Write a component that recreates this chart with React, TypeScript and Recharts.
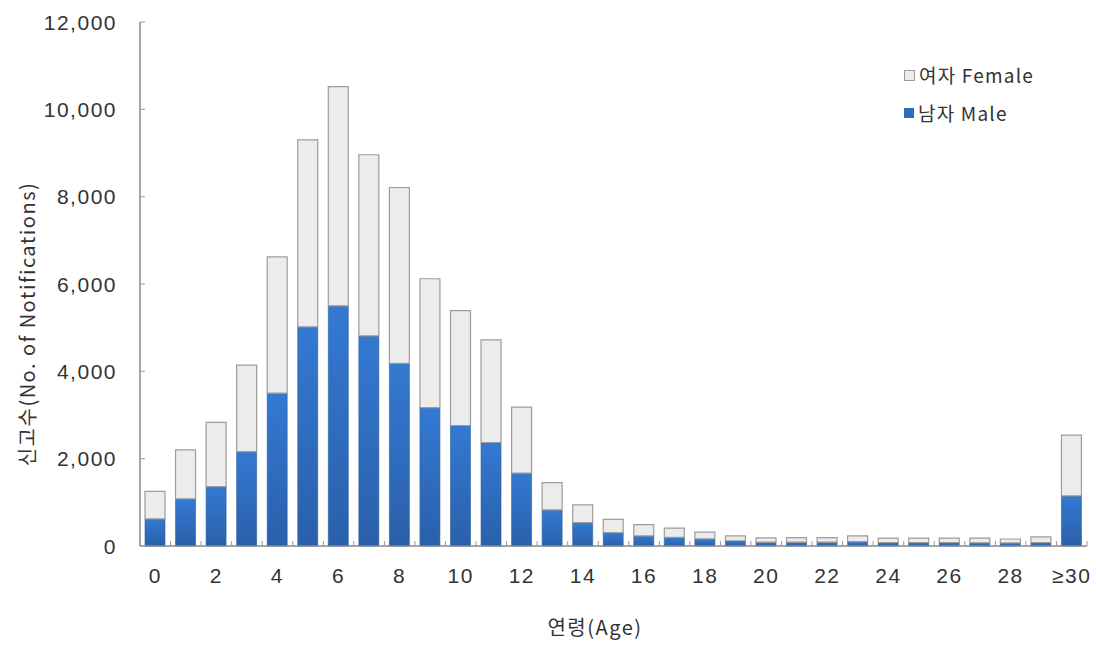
import React from 'react';
import { BarChart, Bar, XAxis, YAxis } from 'recharts';

const ageLabels = ['0','1','2','3','4','5','6','7','8','9','10','11','12','13','14','15','16','17','18','19','20','21','22','23','24','25','26','27','28','29','≥30'];
const maleValues = [620,1080,1360,2160,3500,5020,5500,4810,4180,3170,2760,2370,1670,825,535,305,230,200,165,120,90,90,90,100,80,80,80,75,70,80,1150];
const femaleValues = [630,1120,1470,1980,3120,4280,5020,4150,4030,2950,2630,2350,1510,625,405,305,260,210,155,110,95,100,100,130,100,100,100,105,90,130,1390];
const yTicks = [0,2000,4000,6000,8000,10000,12000];

const data = ageLabels.map((age, i) => ({ age, male: maleValues[i], female: femaleValues[i] }));

const FONT = '"Noto Sans CJK KR", "DejaVu Sans", sans-serif';
const NUM_FONT = '"Liberation Sans Narrow", "Liberation Sans", sans-serif';
const W = 1096;
const H = 654;
const M = { top: 22, right: 9, bottom: 0, left: 0 };
const Y_W = 140;
const X_H = 108;
const STEP = (W - M.left - M.right - Y_W) / ageLabels.length;

const fmt = (v: number) => v.toLocaleString('en-US');

const YTick = (props: any) => {
  const { x, y, payload } = props;
  return (
    <g>
      <line x1={x} y1={y} x2={x + 5} y2={y} stroke="#999" strokeWidth={1} />
      <text x={x - 23} y={y} dy={7.5} textAnchor="end" fontSize={21} letterSpacing={1.5} fill="#333" fontFamily={NUM_FONT}>
        {fmt(payload.value)}
      </text>
    </g>
  );
};

const XTick = (props: any) => {
  const { x, y, payload, index } = props;
  const last = index === ageLabels.length - 1;
  return (
    <g>
      <line x1={x - STEP / 2} y1={y} x2={x - STEP / 2} y2={y - 5} stroke="#999" strokeWidth={1} />
      {last && <line x1={x + STEP / 2} y1={y} x2={x + STEP / 2} y2={y - 5} stroke="#999" strokeWidth={1} />}
      {index % 2 === 0 && (
        <text x={x} y={y + 37} textAnchor="middle" fontSize={21} letterSpacing={1.5} fill="#333" fontFamily={NUM_FONT}>
          {payload.value}
        </text>
      )}
    </g>
  );
};

export default function App() {
  return (
    <div style={{ position: 'absolute', left: 0, top: 0, width: W, height: H, background: '#fff' }}>
      <BarChart width={W} height={H} data={data} margin={M} barSize={20}>
        <defs>
          <linearGradient id="maleGrad" x1="0" y1="0" x2="0" y2="1">
            <stop offset="0%" stopColor="#3479d2" />
            <stop offset="100%" stopColor="#2a60aa" />
          </linearGradient>
        </defs>
        <XAxis
          dataKey="age"
          interval={0}
          height={X_H}
          tickSize={0}
          tickMargin={0}
          tickLine={false}
          tick={<XTick />}
          axisLine={{ stroke: '#888', strokeWidth: 1.5 }}
        />
        <YAxis
          width={Y_W}
          domain={[0, 12000]}
          ticks={yTicks}
          interval={0}
          tickSize={0}
          tickMargin={0}
          tickLine={false}
          tick={<YTick />}
          axisLine={{ stroke: '#888', strokeWidth: 1.5 }}
        />
        <Bar dataKey="male" stackId="a" fill="url(#maleGrad)" stroke="#2c5c9c" strokeWidth={0.6} isAnimationActive={false} />
        <Bar dataKey="female" stackId="a" fill="#ececec" stroke="#9c9c9c" strokeWidth={1.2} isAnimationActive={false} />
      </BarChart>
      <svg width={44} height={654} style={{ position: 'absolute', left: 0, top: 0 }}>
        <text
          x={0}
          y={0}
          transform="translate(26 324) rotate(-90)"
          textAnchor="middle"
          dominantBaseline="central"
          fontSize={20}
          letterSpacing={1.5}
          fill="#333"
          fontFamily={FONT}
        >
          신고수(No. of Notifications)
        </text>
      </svg>
      <div style={{ position: 'absolute', left: 0, top: 612, width: 1190, textAlign: 'center', fontSize: 20, letterSpacing: 1.5, color: '#333', fontFamily: FONT }}>
        연령(Age)
      </div>
      <div style={{ position: 'absolute', left: 904, top: 56, fontFamily: FONT, fontSize: 19, letterSpacing: 1.2, color: '#333', lineHeight: '38px' }}>
        <div style={{ display: 'flex', alignItems: 'center' }}>
          <span style={{ display: 'inline-block', width: 9, height: 9, background: '#ececec', border: '1px solid #9c9c9c', marginRight: 4 }} />
          여자 Female
        </div>
        <div style={{ display: 'flex', alignItems: 'center' }}>
          <span style={{ display: 'inline-block', width: 10, height: 10, background: '#2f6cc0', marginRight: 4 }} />
          남자 Male
        </div>
      </div>
    </div>
  );
}
